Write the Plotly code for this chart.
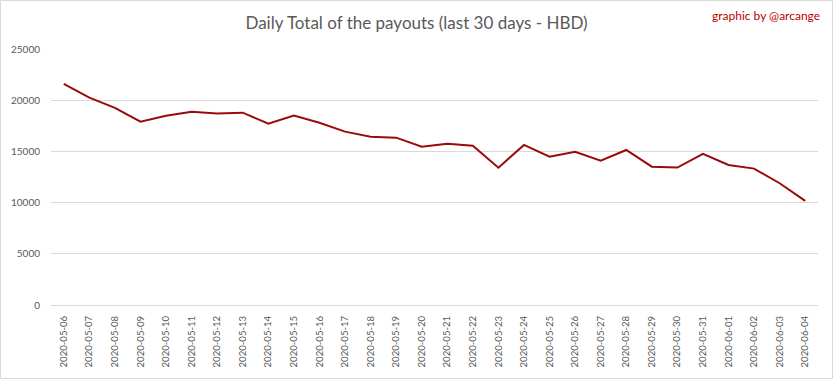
import plotly.graph_objects as go

dates = ["2020-05-06", "2020-05-07", "2020-05-08", "2020-05-09", "2020-05-10",
         "2020-05-11", "2020-05-12", "2020-05-13", "2020-05-14", "2020-05-15",
         "2020-05-16", "2020-05-17", "2020-05-18", "2020-05-19", "2020-05-20",
         "2020-05-21", "2020-05-22", "2020-05-23", "2020-05-24", "2020-05-25",
         "2020-05-26", "2020-05-27", "2020-05-28", "2020-05-29", "2020-05-30",
         "2020-05-31", "2020-06-01", "2020-06-02", "2020-06-03", "2020-06-04"]
payouts = [21600, 20250, 19250, 17900, 18490,
           18880, 18690, 18780, 17710, 18490,
           17800, 16930, 16440, 16340, 15460,
           15750, 15560, 13410, 15630, 14490,
           14970, 14100, 15140, 13510, 13420,
           14760, 13680, 13320, 11890, 10170]
y_ticks = [0, 5000, 10000, 15000, 20000, 25000]

W, H = 833, 379
ml, mr, mt, mb = 51, 15, 49, 74
pw, ph = W - ml - mr, H - mt - mb

fig = go.Figure()
fig.add_trace(go.Scatter(
    x=dates, y=payouts, mode="lines",
    line=dict(color="#9b0a0a", width=2),
    hoverinfo="x+y",
))

fig.update_layout(
    width=W, height=H,
    margin=dict(l=ml, r=mr, t=mt, b=mb, autoexpand=False),
    paper_bgcolor="white", plot_bgcolor="white",
    showlegend=False,
    font=dict(family="Lato", color="#595959", size=10),
    title=dict(text="Daily Total of the payouts (last 30 days - HBD)",
               x=0.5, xanchor="center", y=1 - 23 / H, yanchor="middle",
               font=dict(family="Lato", size=17, color="#595959")),
    xaxis=dict(type="category", range=[-0.5, len(dates) - 0.5],
               tickangle=-90, showgrid=False, showline=True,
               linecolor="#d9d9d9", linewidth=1, ticks="",
               tickfont=dict(size=9.6, color="#595959"), ticklabelstandoff=6,
               automargin=False, fixedrange=True),
    yaxis=dict(range=[0, 25000], tickvals=y_ticks, tickformat="d",
               showgrid=True, gridcolor="#d9d9d9", gridwidth=1, zeroline=False,
               showline=False, ticks="", ticklabelstandoff=10,
               tickfont=dict(size=10, color="#595959"),
               automargin=False, fixedrange=True),
    annotations=[dict(text="graphic by @arcange", xref="paper", yref="paper",
                      x=(822 - ml) / pw, y=(H - 15 - mb) / ph,
                      xanchor="right", yanchor="middle", showarrow=False,
                      font=dict(family="Lato", size=12, color="#c00000"))],
    shapes=[dict(type="rect", xref="paper", yref="paper",
                 x0=(0.5 - ml) / pw, x1=(W - 0.5 - ml) / pw,
                 y0=-(mb - 0.5) / ph, y1=(H - 0.5 - mb) / ph,
                 line=dict(color="#d9d9d9", width=1), layer="below")],
)

fig.write_html("out.html", config={"displayModeBar": False},
               post_script="document.body.style.margin='0';document.body.style.overflow='hidden';")
